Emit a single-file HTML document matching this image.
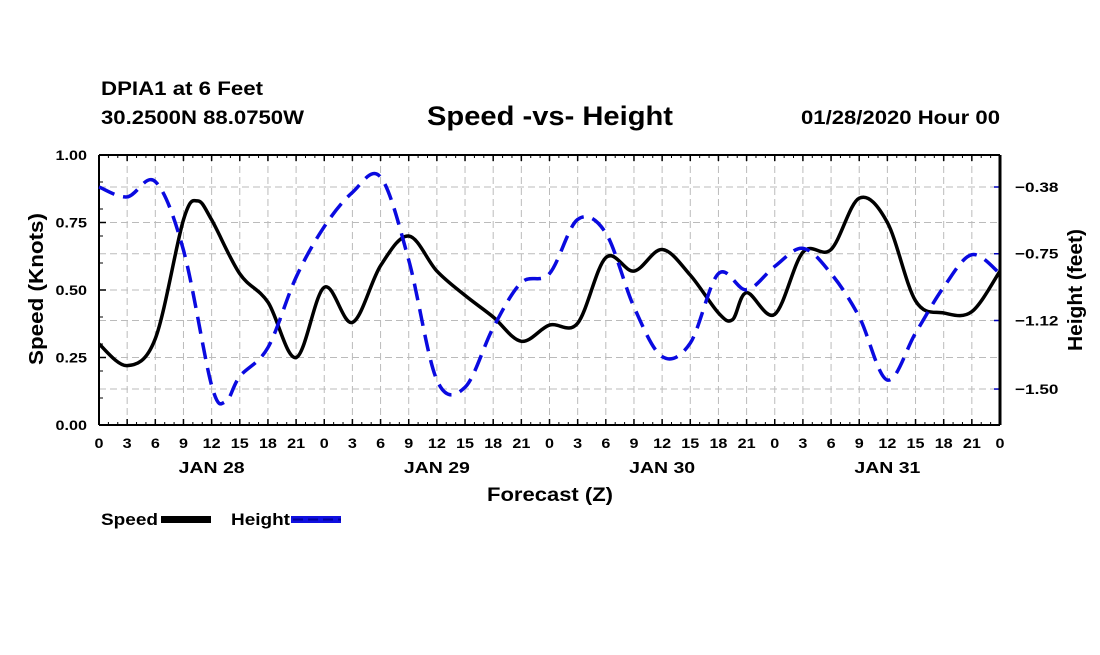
<!DOCTYPE html>
<html><head><meta charset="utf-8"><style>
body{margin:0;background:#fff;width:1100px;height:650px;overflow:hidden;font-family:"Liberation Sans",sans-serif}
svg text{font-family:"Liberation Sans",sans-serif;font-weight:bold}
</style></head><body>
<svg id="chart" width="1100" height="650" xmlns="http://www.w3.org/2000/svg">
<text x="101" y="95" font-size="19" textLength="162" lengthAdjust="spacingAndGlyphs">DPIA1 at 6 Feet</text>
<text x="101" y="124" font-size="19" textLength="203" lengthAdjust="spacingAndGlyphs">30.2500N 88.0750W</text>
<text x="427" y="125" font-size="27" textLength="246" lengthAdjust="spacingAndGlyphs">Speed -vs- Height</text>
<text x="801" y="124" font-size="19" textLength="199" lengthAdjust="spacingAndGlyphs">01/28/2020 Hour 00</text>
<g id="grid"></g>
<g id="axes"></g>
<g id="series"></g>
<text transform="translate(43,289) rotate(-90)" font-size="20" text-anchor="middle" textLength="152" lengthAdjust="spacingAndGlyphs">Speed (Knots)</text>
<text transform="translate(1082,290) rotate(-90)" font-size="20" text-anchor="middle" textLength="122" lengthAdjust="spacingAndGlyphs">Height (feet)</text>
<text x="487" y="501" font-size="19" textLength="126" lengthAdjust="spacingAndGlyphs">Forecast (Z)</text>
<g>
<text x="101" y="525" font-size="17" textLength="57" lengthAdjust="spacingAndGlyphs">Speed</text>
<rect x="161" y="516" width="50" height="7" fill="#000"/>
</g>
<g>
<text x="231" y="525" font-size="17" textLength="59" lengthAdjust="spacingAndGlyphs">Height</text>
<rect x="291" y="516" width="50" height="7" fill="#1010e0"/>
<line x1="293" y1="519.5" x2="341" y2="519.5" stroke="#0000a0" stroke-width="2" stroke-dasharray="10,5"/>
</g>
</svg>
<script>
const hours = [0,3,6,9,10.5,12,15,18,21,24,27,30,33,36,39,42,45,48,51,54,57,60,63,66,67.5,69,72,75,78,81,84,87,90,93,96];
const speed = [0.30,0.22,0.32,0.76,0.83,0.76,0.56,0.455,0.25,0.51,0.38,0.59,0.70,0.57,0.48,0.40,0.31,0.37,0.377,0.62,0.57,0.65,0.555,0.415,0.39,0.49,0.41,0.64,0.65,0.84,0.75,0.46,0.415,0.42,0.57];
const hHours = [0,3,6,9,12,13.5,15,18,21,24,27,30,33,36,39,42,45,48,51,54,57,60,63,66,69,72,75,78,81,84,87,90,93,96];
const height = [-0.38,-0.435,-0.35,-0.73,-1.48,-1.57,-1.43,-1.27,-0.88,-0.60,-0.41,-0.325,-0.785,-1.45,-1.49,-1.16,-0.91,-0.86,-0.56,-0.635,-1.045,-1.32,-1.245,-0.86,-0.95,-0.82,-0.72,-0.86,-1.10,-1.45,-1.19,-0.935,-0.755,-0.86];
const speedTicks = ["0.00","0.25","0.50","0.75","1.00"];
const heightTicks = [-0.38,-0.75,-1.12,-1.50];
const dayLabels = ["JAN 28","JAN 29","JAN 30","JAN 31"];

const L=99,R=1000,T=155,B=425;
const x = h => L + (R-L)*h/96;
const yS = v => B - (B-T)*v;
const yH = v => 187 + (-0.38 - v)*180.4;
const NS="http://www.w3.org/2000/svg";
function mk(tag, parent, attrs){const e=document.createElementNS(NS,tag);for(const k in attrs)e.setAttribute(k,attrs[k]);parent.appendChild(e);return e;}
function tl(s){let w=0;for(const c of s){w+= c==='.'?4.5:9;}return w;}
const grid=document.getElementById('grid'), axes=document.getElementById('axes'), series=document.getElementById('series');

for(let h=0;h<=96;h+=3){
  const gl=mk('line',grid,{x1:x(h),x2:x(h),y1:T,y2:B,stroke:'#bbb','stroke-dasharray':'7,4'});
  
  
  const s=String(h%24);
  const t=mk('text',axes,{x:x(h),y:B+23,'font-size':14,'text-anchor':'middle',textLength:tl(s),lengthAdjust:'spacingAndGlyphs'});
  t.textContent=s;
  
  
  mk('line',axes,{x1:x(h),x2:x(h),y1:B,y2:B-6,stroke:'#000','stroke-width':1.5});
  mk('line',axes,{x1:x(h),x2:x(h),y1:T,y2:T+6,stroke:'#000','stroke-width':1.5});
}
for(let h=0;h<=96;h++){
  mk('line',axes,{x1:x(h),x2:x(h),y1:B,y2:B-3,stroke:'#000'});
  mk('line',axes,{x1:x(h),x2:x(h),y1:T,y2:T+3,stroke:'#000'});
}
speedTicks.forEach(s=>{
  const v=parseFloat(s);
  if(v>0&&v<1){const gl=mk('line',grid,{x1:L,x2:R,y1:yS(v),y2:yS(v),stroke:'#bbb','stroke-dasharray':'7,4'});
    
    }
  mk('line',axes,{x1:L,x2:L+7,y1:yS(v),y2:yS(v),stroke:'#000','stroke-width':1.5});
  const t=mk('text',axes,{x:L-12-tl(s),y:yS(v)+5,'font-size':14,textLength:tl(s),lengthAdjust:'spacingAndGlyphs'});
  t.textContent=s;
  
  
});
for(let v=0;v<=1.0001;v+=0.1){mk('line',axes,{x1:L,x2:L+4,y1:yS(v),y2:yS(v),stroke:'#000'});}
heightTicks.forEach(v=>{
  const gl=mk('line',grid,{x1:L,x2:R,y1:yH(v),y2:yH(v),stroke:'#bbb','stroke-dasharray':'7,4'});
  
  
  mk('line',axes,{x1:R,x2:R-6,y1:yH(v),y2:yH(v),stroke:'#0000c0','stroke-width':1.5});
  const s=v.toFixed(2).replace('-','\u2212');
  const t=mk('text',axes,{x:R+15,y:yH(v)+5,'font-size':14,textLength:tl(s)+3,lengthAdjust:'spacingAndGlyphs'});
  t.textContent=s;
  
  
});
dayLabels.forEach((d,i)=>{
  const t=mk('text',axes,{x:x(12+24*i)-33,y:B+48,'font-size':16,textLength:66,lengthAdjust:'spacingAndGlyphs'});
  t.textContent=d;
  
  
});
mk('line',axes,{x1:L,x2:R,y1:T,y2:T,stroke:'#000','stroke-width':2});
mk('line',axes,{x1:L,x2:R,y1:B,y2:B,stroke:'#000','stroke-width':2});
mk('line',axes,{x1:L,x2:L,y1:T,y2:B,stroke:'#000','stroke-width':2});
mk('line',axes,{x1:R,x2:R,y1:T,y2:B,stroke:'#000','stroke-width':3});

function smooth(px,py){
  let d=`M${px[0]},${py[0]}`;
  for(let i=0;i<px.length-1;i++){
    const i0=Math.max(0,i-1),i3=Math.min(px.length-1,i+2);
    const c1x=px[i]+(px[i+1]-px[i0])/6,c1y=py[i]+(py[i+1]-py[i0])/6;
    const c2x=px[i+1]-(px[i3]-px[i])/6,c2y=py[i+1]-(py[i3]-py[i])/6;
    d+=` C${c1x},${c1y} ${c2x},${c2y} ${px[i+1]},${py[i+1]}`;
  }
  return d;
}
const sp=mk('path',series,{d:smooth(hours.map(x),speed.map(yS)),fill:'none',stroke:'#000','stroke-width':3.5});


const hp=mk('path',series,{d:smooth(hHours.map(x),height.map(yH)),fill:'none',stroke:'#0a0ae0','stroke-width':3.5,'stroke-dasharray':'17,9'});


</script>
</body></html>
